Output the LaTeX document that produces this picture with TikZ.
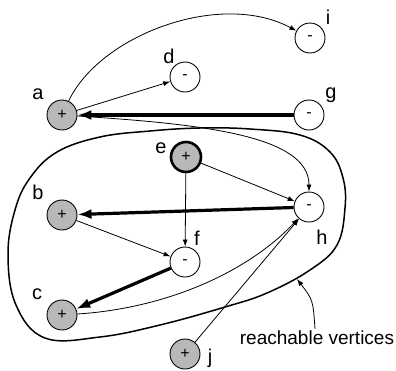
\documentclass[tikz,border=0pt]{standalone}
\usepackage{fontspec}
\setmainfont{Liberation Sans}
\usetikzlibrary{arrows.meta}
\begin{document}
\begin{tikzpicture}[x=1pt,y=-1pt,
  vtx/.style={circle,draw,line width=0.9pt,minimum size=30pt,inner sep=0pt,font=\fontsize{16}{16}\selectfont},
  posv/.style={vtx,fill=black!28},
  negv/.style={vtx,fill=white},
  lbl/.style={inner sep=0pt,font=\fontsize{20}{21}\selectfont},
  tarrow/.style={line width=0.8pt,-{Latex[length=7pt,width=5pt]}},
  barrow/.style={line width=3.2pt,-{Latex[length=14pt,width=10pt]}},
]
\useasboundingbox (0,0) rectangle (396,370);
% region
\draw[line width=1.5pt] plot[smooth cycle, tension=0.65] coordinates {
  (57,152) (100,137) (150,131) (200,128) (250,129) (300,135) (330,152)
  (343,178) (345,208) (337,245) (310,270) (267,293) (225,307) (160,325)
  (100,337) (45,338) (16,305) (8,255) (15,210) (30,178)};
% vertices
\node[posv] (a) at (62,115) {+};
\node[negv] (d) at (185,77) {-};
\node[negv] (i) at (310,38) {-};
\node[negv] (g) at (309,115) {-};
\node[posv,line width=2.6pt] (e) at (186,157) {+};
\node[negv] (h) at (309,207) {-};
\node[posv] (b) at (62,215) {+};
\node[negv] (f) at (185,262) {-};
\node[posv] (c) at (62,315) {+};
\node[posv] (j) at (185,354) {+};
% labels
\node[lbl] at (38,94) {a};
\node[lbl] at (169,56) {d};
\node[lbl] at (328,17) {i};
\node[lbl] at (331,95) {g};
\node[lbl] at (161,148) {e};
\node[lbl] at (38,192) {b};
\node[lbl] at (197,238) {f};
\node[lbl] at (37,294) {c};
\node[lbl] at (322,237) {h};
\node[lbl] at (210,358) {j};
\node[lbl,font=\fontsize{19}{20}\selectfont] (rv) at (317,338) {reachable vertices};
\coordinate (rvpt) at (297,279);
\path (rv.north) ++(-2,-2) coordinate (rvtail);
% edges
\draw[tarrow] (a) -- (d);
\draw[tarrow] (a) .. controls (100,35) and (220,-10) .. (i);
\draw[barrow] (g) -- (a);
\draw[tarrow] (a) .. controls (200,124) and (309,135) .. (h);
\draw[tarrow] (e) -- (h);
\draw[tarrow] (e) -- (f);
\draw[barrow] (h) -- (b);
\draw[tarrow] (b) -- (f);
\draw[barrow] (f) -- (c);
\draw[tarrow] (c) .. controls (170,308) and (250,270) .. (h);
\draw[tarrow] (j) -- (h);
\draw[tarrow] (rvtail) .. controls (313,300) .. (rvpt);
\end{tikzpicture}
\end{document}
